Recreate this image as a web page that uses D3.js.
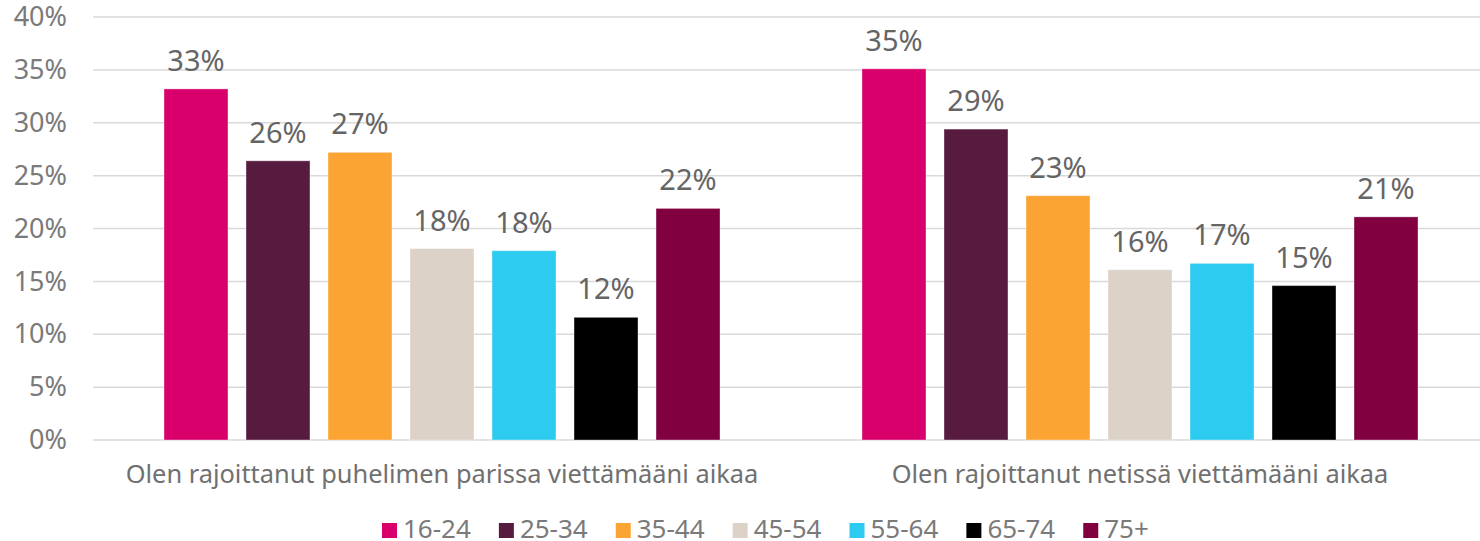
<!DOCTYPE html>
<html><head><meta charset="utf-8">
<script src="https://cdn.jsdelivr.net/npm/d3@7"></script>
<style>body{margin:0;background:#fff}svg{display:block}</style>
</head><body>
<svg id="c" width="1480" height="541"></svg>
<script>
const categories = ["Olen rajoittanut puhelimen parissa viettämääni aikaa", "Olen rajoittanut netissä viettämääni aikaa"];
const series = ["16-24", "25-34", "35-44", "45-54", "55-64", "65-74", "75+"];
const colors = ["#D9006C", "#561B3E", "#FBA433", "#DCD2C8", "#2ECBF0", "#000000", "#800040"];
const valuesPhone = [33.2, 26.4, 27.2, 18.1, 17.9, 11.6, 21.9];
const valuesNet = [35.1, 29.4, 23.1, 16.1, 16.7, 14.6, 21.1];
const yTicks = [0, 5, 10, 15, 20, 25, 30, 35, 40];

const values = [valuesPhone, valuesNet];
const svg = d3.select("#c");
const font = "'Noto Sans', 'Open Sans', sans-serif";

const y = d3.scaleLinear().domain([0, 40]).range([440, 17]);
const x0 = d3.scaleBand().domain(categories).range([93, 1489]);
const x1 = d3.scaleBand().domain(series).range([0, x0.bandwidth()]).paddingInner(0.22).paddingOuter(0.866);
const color = d3.scaleOrdinal().domain(series).range(colors);

// gridlines
svg.append("g").selectAll("line").data(yTicks).join("line")
  .attr("x1", 93).attr("x2", 1480)
  .attr("y1", d => y(d)).attr("y2", d => y(d))
  .attr("stroke", "#d9d9d9").attr("stroke-width", 1.5);

// y axis labels
const yAxis = d3.axisLeft(y).tickValues(yTicks).tickFormat(d => d + "%").tickSize(0).tickPadding(0);
const ga = svg.append("g").attr("transform", "translate(67,0)").call(yAxis);
ga.select(".domain").remove();
ga.selectAll("text").attr("font-family", font).attr("font-size", 27).attr("fill", "#7a7a7a");

// bars
const groups = svg.append("g").selectAll("g").data(categories).join("g")
  .attr("transform", d => `translate(${x0(d)},0)`);
groups.selectAll("rect").data((c, i) => series.map((s, j) => ({s, v: values[i][j]}))).join("rect")
  .attr("x", d => x1(d.s)).attr("width", x1.bandwidth())
  .attr("y", d => y(d.v)).attr("height", d => y(0) - y(d.v))
  .attr("fill", d => color(d.s))
  .attr("stroke", "rgba(255,255,255,0.35)").attr("stroke-width", 1);
groups.selectAll("text").data((c, i) => series.map((s, j) => ({s, v: values[i][j]}))).join("text")
  .attr("x", d => x1(d.s) + x1.bandwidth() / 2).attr("y", d => y(d.v) - 18)
  .attr("text-anchor", "middle").attr("font-family", font).attr("font-size", 29)
  .attr("fill", "#656565").text(d => Math.round(d.v) + "%");

// category labels
svg.append("g").selectAll("text").data(categories).join("text")
  .attr("x", d => x0(d) + x0.bandwidth() / 2).attr("y", 483)
  .attr("text-anchor", "middle").attr("font-family", font).attr("font-size", 25.4)
  .attr("fill", "#707070").text(d => d);

// legend
const lg = svg.append("g").attr("transform", "translate(382,0)");
let lx = 0;
series.forEach((s, i) => {
  const g = lg.append("g").attr("transform", `translate(${lx},0)`);
  g.append("rect").attr("x", 0).attr("y", 523).attr("width", 15).attr("height", 15).attr("fill", colors[i]);
  const t = g.append("text").attr("x", 21).attr("y", 538).attr("font-family", font).attr("font-size", 26)
    .attr("fill", "#7a7a7a").text(s);
  lx += 21 + t.node().getComputedTextLength() + 28;
});
</script>
</body></html>
